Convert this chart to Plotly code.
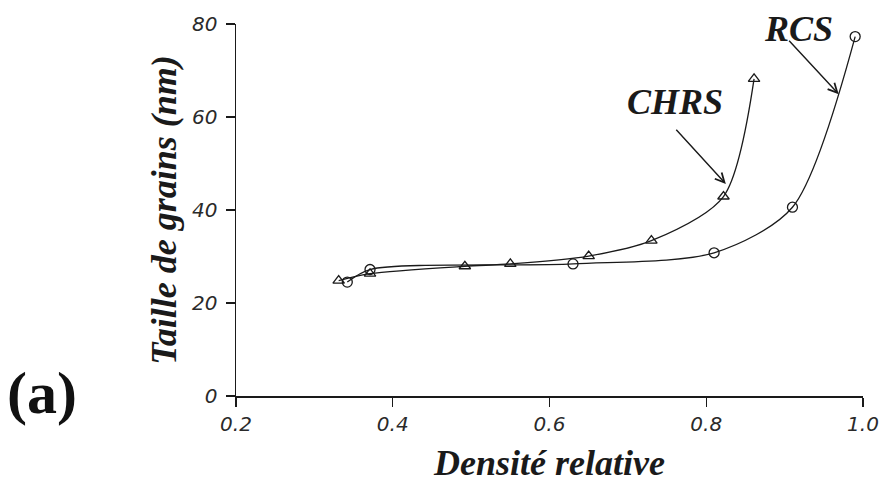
import plotly.graph_objects as go

# Data
chrs_density = [0.331, 0.371, 0.492, 0.550, 0.650, 0.730, 0.822, 0.861]
chrs_grain = [24.8, 26.3, 27.9, 28.4, 30.1, 33.4, 42.9, 68.2]

rcs_density = [0.342, 0.371, 0.630, 0.810, 0.910, 0.990]
rcs_grain = [24.5, 27.2, 28.4, 30.8, 40.6, 77.3]

x_ticks = [0.2, 0.4, 0.6, 0.8, 1.0]
x_ticklabels = ["0.2", "0.4", "0.6", "0.8", "1.0"]
y_ticks = [0, 20, 40, 60, 80]

LINE = "#1a1a1a"
SERIF = "Liberation Serif"
SANS = "DejaVu Sans"

W, H = 884, 483
ML, MR, MT, MB = 236, 21, 24, 87

fig = go.Figure()
fig.add_trace(go.Scatter(
    x=chrs_density, y=chrs_grain, name="CHRS", mode="lines+markers",
    line=dict(color=LINE, width=1.3, shape="spline", smoothing=0.8),
    marker=dict(symbol="triangle-up-open", size=10, color=LINE, line=dict(width=1.3)),
))
fig.add_trace(go.Scatter(
    x=rcs_density, y=rcs_grain, name="RCS", mode="lines+markers",
    line=dict(color=LINE, width=1.3, shape="spline", smoothing=0.8),
    marker=dict(symbol="circle-open", size=10, color=LINE, line=dict(width=1.3)),
))

title_font = dict(family=SERIF, size=36, color="#1a1a1a", weight="bold", style="italic")
tick_font = dict(family=SANS, size=20, color="#2a2a2a", style="italic")

fig.update_layout(
    width=W, height=H,
    margin=dict(l=ML, r=MR, t=MT, b=MB, autoexpand=False),
    paper_bgcolor="white", plot_bgcolor="white",
    showlegend=False,
    hovermode=False,
    xaxis=dict(
        range=[0.2, 1.0], tickvals=x_ticks, ticktext=x_ticklabels,
        showgrid=False, zeroline=False, showline=True, linecolor=LINE, linewidth=1.5,
        ticks="outside", ticklen=9, tickwidth=1.3, tickcolor=LINE,
        tickfont=tick_font, ticklabelstandoff=0, automargin=False,
        title=dict(text="Densité relative", font=title_font, standoff=21),
    ),
    yaxis=dict(
        range=[0, 80], tickvals=y_ticks,
        showgrid=False, zeroline=False, showline=True, linecolor=LINE, linewidth=1.5,
        ticks="outside", ticklen=9, tickwidth=1.3, tickcolor=LINE,
        tickfont=tick_font, ticklabelstandoff=4, automargin=False,
        title=dict(text="Taille de grains (nm)", font=title_font, standoff=4),
    ),
)

label_font = dict(family=SERIF, size=36, color="#1a1a1a", weight="bold", style="italic")
fig.add_annotation(x=0.760, y=63.3, xref="x", yref="y", text="CHRS", showarrow=False,
                   xanchor="center", yanchor="middle", font=label_font)
fig.add_annotation(x=0.918, y=79.0, xref="x", yref="y", text="RCS", showarrow=False,
                   xanchor="center", yanchor="middle", font=label_font)

# arrows
fig.add_annotation(x=0.825, y=45.6, ax=0.760, ay=57.6, xref="x", yref="y", axref="x", ayref="y",
                   text="", showarrow=True, arrowhead=5, arrowsize=1.3, arrowwidth=1.4, arrowcolor=LINE)
fig.add_annotation(x=0.969, y=64.9, ax=0.904, ay=76.7, xref="x", yref="y", axref="x", ayref="y",
                   text="", showarrow=True, arrowhead=5, arrowsize=1.3, arrowwidth=1.4, arrowcolor=LINE)

# panel letter, placed in paper coordinates
pw = W - ML - MR
ph = H - MT - MB
fig.add_annotation(x=(42 - ML) / pw, y=(H - MB - 393) / ph, xref="paper", yref="paper",
                   text="(a)", showarrow=False, xanchor="center", yanchor="middle",
                   font=dict(family=SERIF, size=60, color="#111111", weight="bold"))

fig.write_html("out.html",
               config={"displayModeBar": False, "staticPlot": True},
               post_script="document.body.style.margin='0';document.body.style.overflow='hidden';")
